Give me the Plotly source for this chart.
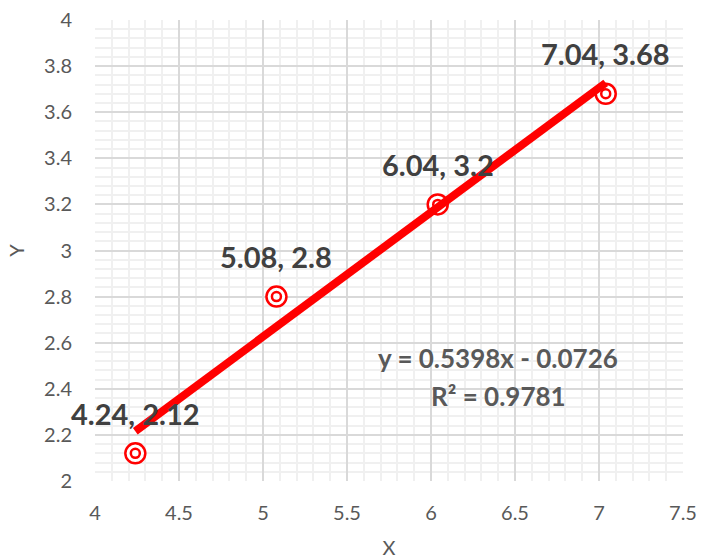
import numpy as np
import plotly.graph_objects as go

x_vals = [4.24, 5.08, 6.04, 7.04]
y_vals = [2.12, 2.8, 3.2, 3.68]
point_labels = ["4.24, 2.12", "5.08, 2.8", "6.04, 3.2", "7.04, 3.68"]
eq_lines = ["y = 0.5398x - 0.0726", "R² = 0.9781"]

slope, intercept = np.polyfit(x_vals, y_vals, 1)
tx = [min(x_vals), max(x_vals)]
ty = [slope * v + intercept for v in tx]

FONT = "Lato"
RED = "#FF0000"

fig = go.Figure()
fig.add_trace(go.Scatter(x=x_vals, y=y_vals, mode="markers",
                         marker=dict(symbol="circle", size=20, color="white",
                                     line=dict(color=RED, width=2.5)),
                         hoverinfo="skip", showlegend=False))
fig.add_trace(go.Scatter(x=x_vals, y=y_vals, mode="markers",
                         marker=dict(symbol="circle", size=9, color="white",
                                     line=dict(color=RED, width=2.5)),
                         hoverinfo="skip", showlegend=False))
fig.add_trace(go.Scatter(x=tx, y=ty, mode="lines",
                         line=dict(color=RED, width=8),
                         hoverinfo="skip", showlegend=False))

for xv, yv, lab in zip(x_vals, y_vals, point_labels):
    fig.add_annotation(x=xv, y=yv, text=lab, showarrow=False, yshift=40,
                       font=dict(family=FONT, size=29, color="#404040", weight="bold"))

for i, line in enumerate(eq_lines):
    fig.add_annotation(x=6.4, y=2.5, text=line, showarrow=False,
                       font=dict(family=FONT, size=26, color="#595959", weight="bold"),
                       yshift=8 - 38 * i)

axis_common = dict(showline=False, zeroline=False, ticks="", automargin=False,
                   gridcolor="#D9D9D9", gridwidth=1.5,
                   tickfont=dict(family=FONT, size=20, color="#595959"),
                   title_font=dict(family=FONT, size=20, color="#595959"))

fig.update_xaxes(range=[4, 7.5], dtick=0.5, title_text="X", ticklabelstandoff=18,
                 minor=dict(dtick=0.1, showgrid=True, gridcolor="#F0F0F0", gridwidth=2),
                 title_standoff=18, **axis_common)
fig.update_yaxes(range=[2, 4], dtick=0.2, title_text="Y", ticklabelstandoff=22,
                 minor=dict(dtick=0.04, showgrid=True, gridcolor="#F0F0F0", gridwidth=2),
                 title_standoff=14, **axis_common)

fig.update_layout(width=702, height=559, paper_bgcolor="white", plot_bgcolor="white",
                  margin=dict(l=95, r=19, t=20, b=78))

fig.write_html("out.html", config={"displayModeBar": False},
               post_script="document.body.style.margin='0';document.body.style.overflow='hidden';")
